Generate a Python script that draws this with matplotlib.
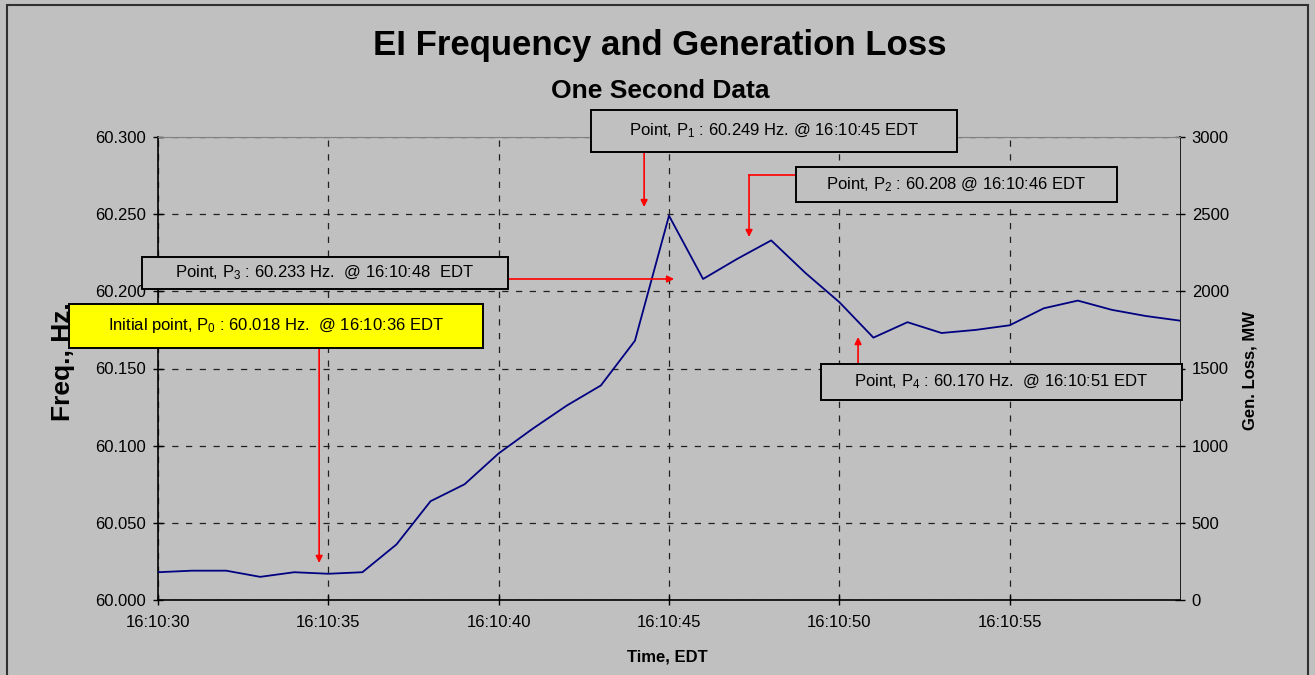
import matplotlib
matplotlib.use("Agg")
import matplotlib.pyplot as plt
import matplotlib.patches as patches

plt.rcParams['font.family'] = ['Liberation Sans', 'DejaVu Sans']
plt.rcParams['mathtext.default'] = 'regular'

# ---- data ----
seconds = list(range(30, 61))  # seconds after 16:10:00
freq = [60.018, 60.019, 60.019, 60.015, 60.018, 60.017, 60.018, 60.036,
        60.064, 60.075, 60.095, 60.111, 60.126, 60.139, 60.168, 60.249,
        60.208, 60.221, 60.233, 60.212, 60.193, 60.170, 60.180, 60.173,
        60.175, 60.178, 60.189, 60.194, 60.188, 60.184, 60.181]
xtick_pos = [30, 35, 40, 45, 50, 55]
xtick_labels = ["16:10:30", "16:10:35", "16:10:40", "16:10:45", "16:10:50", "16:10:55"]
ytick_left = [60.000, 60.050, 60.100, 60.150, 60.200, 60.250, 60.300]
ytick_right = [0, 500, 1000, 1500, 2000, 2500, 3000]

BG = '#C0C0C0'
W, H = 1315, 675
fig = plt.figure(figsize=(W / 100, H / 100), dpi=100, facecolor=BG)

ax = fig.add_axes([158 / W, 1 - 600 / H, (1180 - 158) / W, (600 - 137) / H])
ax.set_facecolor(BG)
ax.plot(seconds, freq, color='#000080', lw=1.3, zorder=3)
ax.set_xlim(30, 60)
ax.set_ylim(60.0, 60.3)
ax.set_xticks(xtick_pos)
ax.set_xticklabels(xtick_labels, fontsize=12)
ax.set_yticks(ytick_left)
ax.set_yticklabels([f"{v:.3f}" for v in ytick_left], fontsize=12)
ax.tick_params(axis='both', direction='inout', length=7, width=1)
ax.tick_params(axis='x', pad=7)
ax.tick_params(axis='y', pad=5)
ax.grid(True, color='#202020', linestyle=(0, (5, 6)), lw=0.9)
for s in ['left', 'bottom']:
    ax.spines[s].set_color('black')
    ax.spines[s].set_linewidth(1.2)
ax.spines['top'].set_color('#808080')
ax.spines['right'].set_visible(False)

ax2 = ax.twinx()
ax2.set_ylim(0, 3000)
ax2.set_yticks(ytick_right)
ax2.set_yticklabels([str(v) for v in ytick_right], fontsize=12)
ax2.tick_params(axis='y', direction='inout', length=7, width=1, pad=5)
ax2.spines['right'].set_color('black')
ax2.spines['right'].set_linewidth(1.2)
for s in ['left', 'top', 'bottom']:
    ax2.spines[s].set_visible(False)
ax2.set_zorder(ax.get_zorder() - 1)
ax.patch.set_visible(True)

# axis labels
fig.text(63 / W, 1 - 362 / H, "Freq., Hz.", rotation=90, fontsize=19, fontweight='bold',
         ha='center', va='center')
fig.text(1250 / W, 1 - 370 / H, "Gen. Loss, MW", rotation=90, fontsize=12, fontweight='bold',
         ha='center', va='center')
fig.text(667 / W, 1 - 657 / H, "Time, EDT", fontsize=12, fontweight='bold',
         ha='center', va='center')

# titles
fig.text(660 / W, 1 - 45 / H, "EI Frequency and Generation Loss", fontsize=25,
         fontweight='bold', ha='center', va='center')
fig.text(660 / W, 1 - 91 / H, "One Second Data", fontsize=19,
         fontweight='bold', ha='center', va='center')

# outer frame
fig.patches.append(patches.Rectangle((7 / W, -0.02), 1301 / W, (H - 5) / H + 0.02,
                                     transform=fig.transFigure, fill=False,
                                     edgecolor='#303030', lw=1.5))

# annotation boxes (data coords, unclipped)
def box(x0, x1, y0, y1, text, fc=BG):
    r = patches.Rectangle((x0, y1), x1 - x0, y0 - y1, facecolor=fc, edgecolor='black',
                          lw=1.4, clip_on=False, zorder=6)
    ax.add_patch(r)
    ax.text((x0 + x1) / 2, (y0 + y1) / 2, text, fontsize=12, ha='center', va='center',
            zorder=7, clip_on=False)

def arrow(x0, y0, x1, y1):
    ax.annotate("", xy=(x1, y1), xytext=(x0, y0), annotation_clip=False,
                arrowprops=dict(arrowstyle='-|>', color='red', lw=1.2, mutation_scale=10,
                                shrinkA=0, shrinkB=0), zorder=5)

box(42.71, 53.45, 60.3175, 60.2903, "Point, P$_1$ : 60.249 Hz. @ 16:10:45 EDT")
box(48.73, 58.15, 60.2806, 60.2579, "Point, P$_2$ : 60.208 @ 16:10:46 EDT")
box(29.53, 40.27, 60.2222, 60.2015, "Point, P$_3$ : 60.233 Hz.  @ 16:10:48  EDT")
box(27.39, 39.54, 60.1918, 60.1633, "Initial point, P$_0$ : 60.018 Hz.  @ 16:10:36 EDT", fc='#FFFF00')
box(49.46, 60.06, 60.1529, 60.1296, "Point, P$_4$ : 60.170 Hz.  @ 16:10:51 EDT")

arrow(44.27, 60.2903, 44.27, 60.2546)
ax.plot([48.73, 47.35], [60.2754, 60.2754], color='red', lw=1.2, zorder=5)
arrow(47.35, 60.2754, 47.35, 60.2352)
arrow(40.27, 60.2080, 45.15, 60.2080)
arrow(34.73, 60.1633, 34.73, 60.0240)
arrow(50.55, 60.1529, 50.55, 60.1704)

fig.savefig("out.png", dpi=100, facecolor=BG)
